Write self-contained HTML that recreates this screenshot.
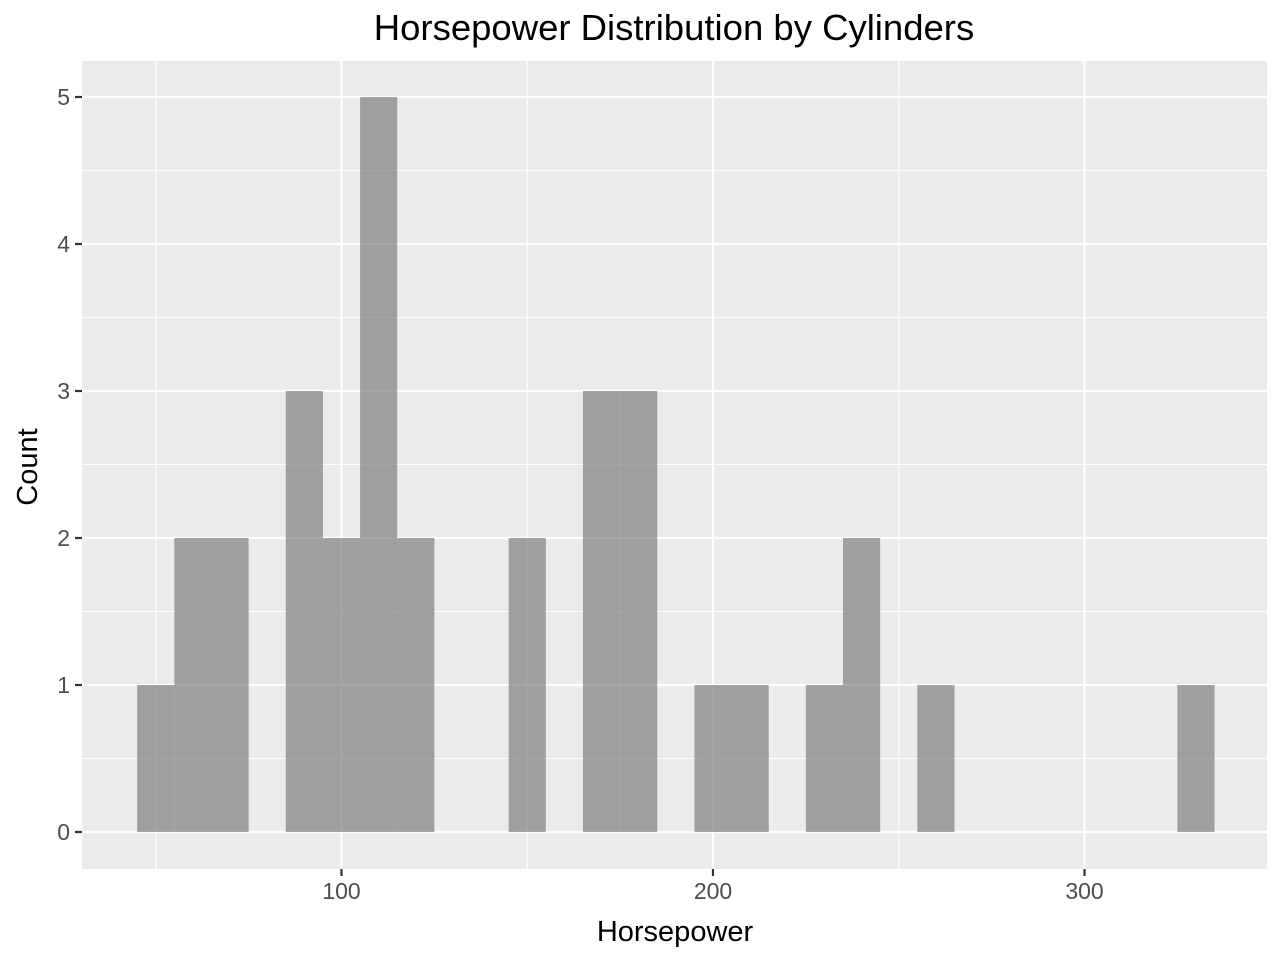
<!DOCTYPE html>
<html><head><meta charset="utf-8"><style>
body{margin:0;background:#fff;font-family:"Liberation Sans",sans-serif}
</style></head><body>
<svg width="1280" height="960" xmlns="http://www.w3.org/2000/svg">
<rect width="1280" height="960" fill="#fff"/>
<rect x="82" y="61" width="1185" height="808" fill="#ebebeb"/>
<g id="grid"></g>
<g id="bars"></g>
<g id="axes"></g>
<text x="674" y="40" font-size="36.5" text-anchor="middle" fill="#000">Horsepower Distribution by Cylinders</text>
<text x="675" y="941" font-size="29" text-anchor="middle" fill="#000">Horsepower</text>
<text x="0" y="0" font-size="29" text-anchor="middle" fill="#000" transform="translate(37,467) rotate(-90)">Count</text>
</svg>
<script>
const binStarts=[45,55,65,75,85,95,105,115,125,135,145,155,165,175,185,195,205,215,225,235,245,255,265,275,285,295,305,315,325];
const counts=[1,2,2,0,3,2,5,2,0,0,2,0,3,3,0,1,1,0,1,2,0,1,0,0,0,0,0,0,1];
const binWidth=10;
const xTicks=[100,200,300];
const xMinor=[50,150,250];
const yTicks=[0,1,2,3,4,5];
const yMinor=[0.5,1.5,2.5,3.5,4.5];
const NS="http://www.w3.org/2000/svg";
const X=v=>341.5+(v-100)*3.715;
const Y=v=>832-v*147;
function mk(t,a,p){const e=document.createElementNS(NS,t);for(const k in a)e.setAttribute(k,a[k]);p.appendChild(e);return e;}
const g=document.getElementById('grid'),b=document.getElementById('bars'),ax=document.getElementById('axes');
xMinor.forEach(v=>{const l=mk('line',{x1:X(v),x2:X(v),y1:61,y2:869,stroke:'#fff','stroke-width':1.1},g);

});
yMinor.forEach(v=>{const l=mk('line',{x1:82,x2:1267,y1:Y(v),y2:Y(v),stroke:'#fff','stroke-width':1.1},g);

});
xTicks.forEach(v=>{const l=mk('line',{x1:X(v),x2:X(v),y1:61,y2:869,stroke:'#fff','stroke-width':2.2},g);


const t=mk('line',{x1:X(v),x2:X(v),y1:869,y2:876,stroke:'#333','stroke-width':2.2},ax);


const tx=mk('text',{x:X(v),y:899,'font-size':23,'text-anchor':'middle',fill:'#4d4d4d'},ax);tx.textContent=v;

});
yTicks.forEach(v=>{const l=mk('line',{x1:82,x2:1267,y1:Y(v),y2:Y(v),stroke:'#fff','stroke-width':2.2},g);


const t=mk('line',{x1:75,x2:82,y1:Y(v),y2:Y(v),stroke:'#333','stroke-width':2.2},ax);


const tx=mk('text',{x:70,y:Y(v)+8,'font-size':23,'text-anchor':'end',fill:'#4d4d4d'},ax);tx.textContent=v;

});
binStarts.forEach((s,i)=>{if(!counts[i])return;
const r=mk('rect',{x:X(s),y:Y(counts[i]),width:X(s+binWidth)-X(s),height:Y(0)-Y(counts[i]),fill:'#7f7f7f','fill-opacity':0.7},b);

});
</script>
</body></html>
